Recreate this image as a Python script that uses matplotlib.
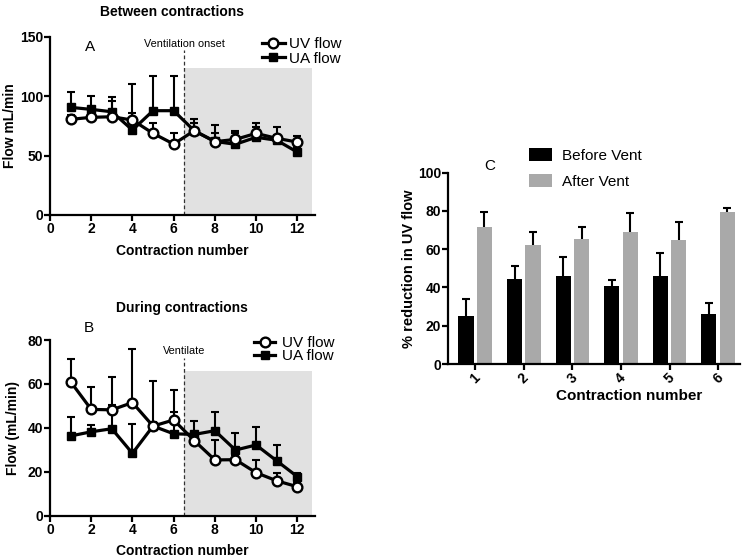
import numpy as np
import matplotlib
matplotlib.use("Agg")
import matplotlib.pyplot as plt

plt.rcParams['font.family'] = ['Liberation Sans', 'DejaVu Sans']

# panel A - between contractions
contraction = [1, 2, 3, 4, 5, 6, 7, 8, 9, 10, 11, 12]
uv_between = [80.6, 82.3, 82.8, 80.0, 68.8, 59.8, 71.0, 61.8, 63.7, 68.8, 64.6, 61.5]
uv_between_err = [4, 4, 13.3, 30, 9, 9.6, 9.6, 7, 7.3, 9, 9.8, 5.1]
ua_between = [90.7, 89.0, 87.0, 71.6, 87.9, 87.9, 71.0, 62.0, 59.6, 65.5, 63.0, 53.0]
ua_between_err = [12.7, 11.5, 12.1, 14.1, 29.1, 29.1, 6.8, 13.8, 9.2, 8.9, 4, 4]

# panel B - during contractions
uv_during = [61.0, 48.4, 48.2, 51.5, 40.8, 43.6, 34.2, 25.4, 25.5, 19.6, 15.9, 13.2]
uv_during_err = [10.4, 10.1, 14.8, 24.3, 20.7, 13.6, 3, 9.1, 2, 5.8, 3.7, 1.5]
ua_during = [36.3, 38.2, 39.6, 28.4, 40.8, 37.3, 37.0, 38.7, 29.9, 32.2, 25.0, 17.8]
ua_during_err = [8.5, 3, 10.8, 13.4, 2, 9.9, 6.3, 8.4, 7.9, 8.0, 7.2, 1.7]

# panel C - % reduction in UV flow
groups = ['1', '2', '3', '4', '5', '6']
before_vent = [25.3, 44.4, 46.2, 40.8, 46.2, 26.0]
before_vent_err = [8.7, 6.8, 9.9, 3.1, 11.7, 5.7]
after_vent = [71.4, 62.4, 65.2, 69.2, 64.8, 79.3]
after_vent_err = [7.9, 6.8, 6.3, 9.6, 9.6, 2.4]

vent_x = 6.5
shade_end = 12.72

W, H = 742, 558
fig = plt.figure(figsize=(W / 100, H / 100), dpi=100)


def px(x0, y0, x1, y1):
    return [x0 / W, 1 - y1 / H, (x1 - x0) / W, (y1 - y0) / H]


def style(ax):
    for s in ['top', 'right']:
        ax.spines[s].set_visible(False)
    for s in ['left', 'bottom']:
        ax.spines[s].set_linewidth(1.6)
    ax.tick_params(width=1.6, length=4, labelsize=10, pad=1)
    for lab in ax.get_xticklabels() + ax.get_yticklabels():
        lab.set_fontweight('bold')


def up_err(ax, x, y, e):
    eb = ax.errorbar(x, y, yerr=[np.zeros(len(e)), e], fmt='none', ecolor='black',
                     elinewidth=1.5, capsize=3.2, capthick=1.5, zorder=3)
    eb[1][0].set_visible(False)


def line_panel(ax, uv, uv_e, ua, ua_e, ymax, shade_top, dash_top, note, note_y):
    ax.fill_between([vent_x, shade_end], 0, shade_top, color='#e1e1e1', lw=0, zorder=0)
    ax.vlines(vent_x, 0, dash_top, colors='#333333', linestyles=(0, (3, 2)), lw=0.9, zorder=1)
    up_err(ax, contraction, ua, ua_e)
    up_err(ax, contraction, uv, uv_e)
    ax.plot(contraction, ua, color='black', lw=2.3, marker='s', ms=6, mfc='black',
            mec='black', zorder=4, label='UA flow')
    ax.plot(contraction, uv, color='black', lw=2.3, marker='o', ms=7, mfc='white',
            mec='black', mew=1.7, zorder=5, label='UV flow')
    ax.text(vent_x, note_y, note, ha='center', va='center', fontsize=7.8)
    ax.set_xlim(0, 12.86)
    ax.set_ylim(0, ymax)
    ax.set_xticks(range(0, 13, 2))
    ax.set_xlabel('Contraction number', fontsize=10, fontweight='bold')
    style(ax)


# A
axA = fig.add_axes(px(50, 37, 315, 215))
line_panel(axA, uv_between, uv_between_err, ua_between, ua_between_err,
           150, 124, 139, 'Ventilation onset', 144.5)
axA.set_yticks([0, 50, 100, 150])
axA.set_ylabel('Flow mL/min', fontsize=10, fontweight='bold')
axA.yaxis.set_label_coords(-0.124, 0.5)
axA.xaxis.set_label_coords(0.5, -0.165)
h, l = axA.get_legend_handles_labels()
axA.legend(h[::-1], l[::-1], loc='upper left', bbox_to_anchor=(262 / W, 1 - 37 / H),
           bbox_transform=fig.transFigure, frameon=False, fontsize=11, borderpad=0,
           handlelength=1.5, handletextpad=0.25, labelspacing=0.05, borderaxespad=0)
fig.text(90 / W, 1 - 47 / H, 'A', fontsize=11, ha='center', va='center')
fig.text(172 / W, 1 - 12 / H, 'Between contractions', fontsize=10, fontweight='bold',
         ha='center', va='center')

# B
axB = fig.add_axes(px(50, 340, 315, 515.7))
line_panel(axB, uv_during, uv_during_err, ua_during, ua_during_err,
           80, 66, 71.8, 'Ventilate', 75)
axB.set_yticks([0, 20, 40, 60, 80])
axB.set_ylabel('Flow (mL/min)', fontsize=10, fontweight='bold')
axB.yaxis.set_label_coords(-0.115, 0.5)
axB.xaxis.set_label_coords(0.5, -0.16)
h, l = axB.get_legend_handles_labels()
axB.legend(h[::-1], l[::-1], loc='upper left', bbox_to_anchor=(254 / W, 1 - 336 / H),
           bbox_transform=fig.transFigure, frameon=False, fontsize=11, borderpad=0,
           handlelength=1.4, handletextpad=0.45, labelspacing=-0.05, borderaxespad=0)
fig.text(89 / W, 1 - 328 / H, 'B', fontsize=11, ha='center', va='center')
fig.text(182 / W, 1 - 308 / H, 'During contractions', fontsize=10, fontweight='bold',
         ha='center', va='center')

# C
axC = fig.add_axes(px(448, 172.7, 740, 364))
xc = np.arange(1, len(groups) + 1)
bw = 0.31
off = 0.19
axC.bar(xc - off, before_vent, bw, color='black', label='Before Vent', zorder=2)
axC.bar(xc + off, after_vent, bw, color='#a9a9a9', label='After Vent', zorder=2)
up_err(axC, xc - off, before_vent, before_vent_err)
up_err(axC, xc + off, after_vent, after_vent_err)
axC.set_xlim(0.44, 6.45)
axC.set_ylim(0, 100)
axC.set_xticks(xc)
axC.set_xticklabels(groups, rotation=45, ha='center')
axC.set_yticks(range(0, 101, 20))
style(axC)
axC.set_xlabel('Contraction number', fontsize=11, fontweight='bold')
axC.xaxis.set_label_coords(0.62, -0.13)
axC.set_ylabel('% reduction in UV flow', fontsize=10.5, fontweight='bold')
axC.yaxis.set_label_coords(-0.11, 0.5)
axC.legend(loc='upper left', bbox_to_anchor=(529 / W, 1 - 148 / H),
           bbox_transform=fig.transFigure, frameon=False, fontsize=11, borderpad=0,
           handlelength=1.5, handleheight=0.9, handletextpad=0.65, labelspacing=0.75,
           borderaxespad=0)
fig.text(490 / W, 1 - 166 / H, 'C', fontsize=11, ha='center', va='center')

fig.savefig('out.png', dpi=100)
